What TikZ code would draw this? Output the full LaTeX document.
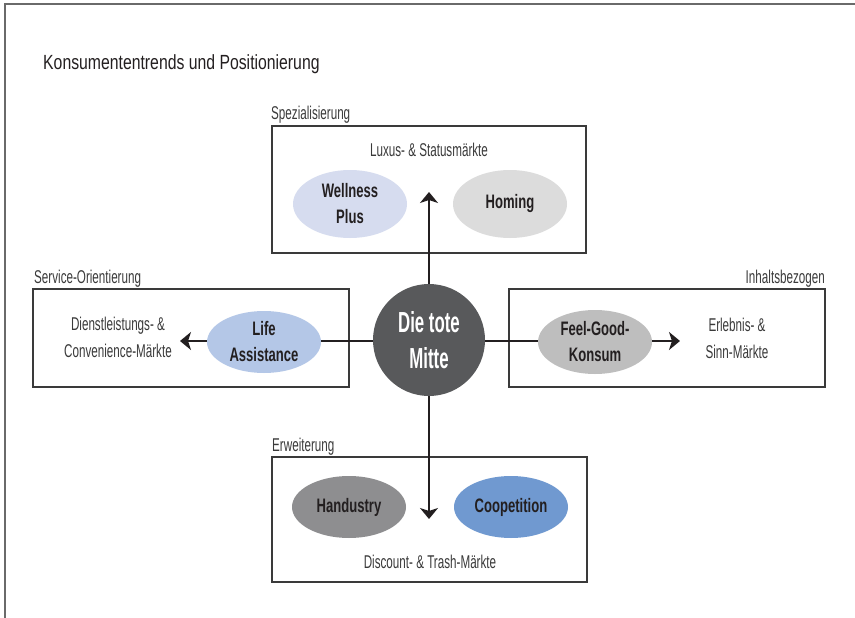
\documentclass[tikz,border=0pt]{standalone}
\usepackage{fontspec}
\setmainfont[FakeStretch=0.63]{Liberation Sans}
\newfontfamily\titlefont[FakeStretch=0.77]{Liberation Sans}
\newfontfamily\trendfont[FakeStretch=0.67]{Liberation Sans}
\newfontfamily\midfont[FakeStretch=0.58]{Liberation Sans}
\usetikzlibrary{shapes.geometric,arrows.meta}
\definecolor{cWell}{HTML}{D6DCEF}
\definecolor{cHom}{HTML}{DCDCDC}
\definecolor{cLife}{HTML}{B4C7E7}
\definecolor{cFeel}{HTML}{BEBEBE}
\definecolor{cHand}{HTML}{8E8E90}
\definecolor{cCoop}{HTML}{7099D0}
\definecolor{cMid}{HTML}{58595B}
\definecolor{cTxt}{HTML}{231F20}
\definecolor{cBox}{HTML}{3A3A3A}
\definecolor{cFrame}{HTML}{6A6A6A}
\tikzset{
  areabox/.style={draw=cBox, line width=1.1pt, fill=white, inner sep=0pt},
  arealabel/.style={text=cBox, font=\fontsize{18.5}{27}\selectfont, inner sep=0pt},
  boxtext/.style={text=cBox, font=\fontsize{18.5}{27}\selectfont, align=center, inner sep=0pt},
  trend/.style={ellipse, minimum width=114pt, minimum height=64pt, inner sep=0pt,
     text=cTxt, font=\trendfont\bfseries\fontsize{19.5}{26}\selectfont, align=center},
  connector/.style={draw=cTxt, line width=2.8pt},
  arrowline/.style={connector, -{Stealth[length=11pt,width=18pt,inset=3pt]}},
}
\begin{document}
\begin{tikzpicture}[x=1pt,y=-1pt]
\useasboundingbox (0,0) rectangle (855,618);
% frame
\coordinate (frTL) at (5,4);
\coordinate (frTR) at (855,4);
\coordinate (frBL) at (5,618);
\draw[cFrame, line width=1.5pt] (frTR) -- (frTL) -- (frBL);
% title
\node[anchor=base west, inner sep=0pt, text=cTxt, font=\titlefont\fontsize{20.5}{26}\selectfont] (title) at (43,69.5) {Konsumententrends und Positionierung};
% boxes
\node[areabox, minimum width=314pt, minimum height=127pt] (top) at (429,189.5) {};
\node[areabox, minimum width=316pt, minimum height=98pt] (left) at (191,338) {};
\node[areabox, minimum width=316pt, minimum height=98pt] (right) at (667,338) {};
\node[areabox, minimum width=315pt, minimum height=125pt] (bot) at (429.5,519.5) {};
% box labels
\node[arealabel, anchor=base west] (lTop) at (271,119.5) {Spezialisierung};
\node[arealabel, anchor=base west] (lLeft) at (34,283) {Service-Orientierung};
\node[arealabel, anchor=base east] (lRight) at (825,283) {Inhaltsbezogen};
\node[arealabel, anchor=base west] (lBot) at (272,451.5) {Erweiterung};
% market texts
\node[boxtext, anchor=base] (mTop) at (429,156.5) {Luxus- \& Statusmärkte};
\node[boxtext] (mLeft) at (118,337) {Dienstleistungs- \&\\Convenience-Märkte};
\node[boxtext] (mRight) at (737,338) {Erlebnis- \&\\Sinn-Märkte};
\node[boxtext, anchor=base] (mBot) at (430,568) {Discount- \& Trash-Märkte};
% centre
\node[circle, fill=cMid, minimum size=112pt, inner sep=0pt, text=white, align=center,
  font=\midfont\bfseries\fontsize{29}{36}\selectfont] (c) at (429,340) {Die tote\\Mitte};
% arrow end points
\coordinate (tTop) at (429,192);
\coordinate (tLeft) at (180,341);
\coordinate (tRight) at (680,341);
\coordinate (tBot) at (429,519);
\draw[arrowline] (c.north) -- (tTop);
\draw[arrowline] (c.west |- tLeft) -- (tLeft);
\draw[arrowline] (c.east |- tRight) -- (tRight);
\draw[arrowline] (c.south) -- (tBot);
% trends
\node[trend, fill=cWell, minimum height=68pt] (well) at (350,204) {Wellness\\Plus};
\node[trend, fill=cHom, minimum height=68pt] (hom) at (510,204) {Homing};
\node[trend, fill=cLife, minimum height=62pt] (life) at (264,342) {Life\\Assistance};
\node[trend, fill=cFeel] (feel) at (595,342) {Feel-Good-\\Konsum};
\node[trend, fill=cHand, minimum height=62pt] (hand) at (349,507) {Handustry};
\node[trend, fill=cCoop, minimum height=62pt] (coop) at (511,507) {Coopetition};
\end{tikzpicture}
\end{document}
